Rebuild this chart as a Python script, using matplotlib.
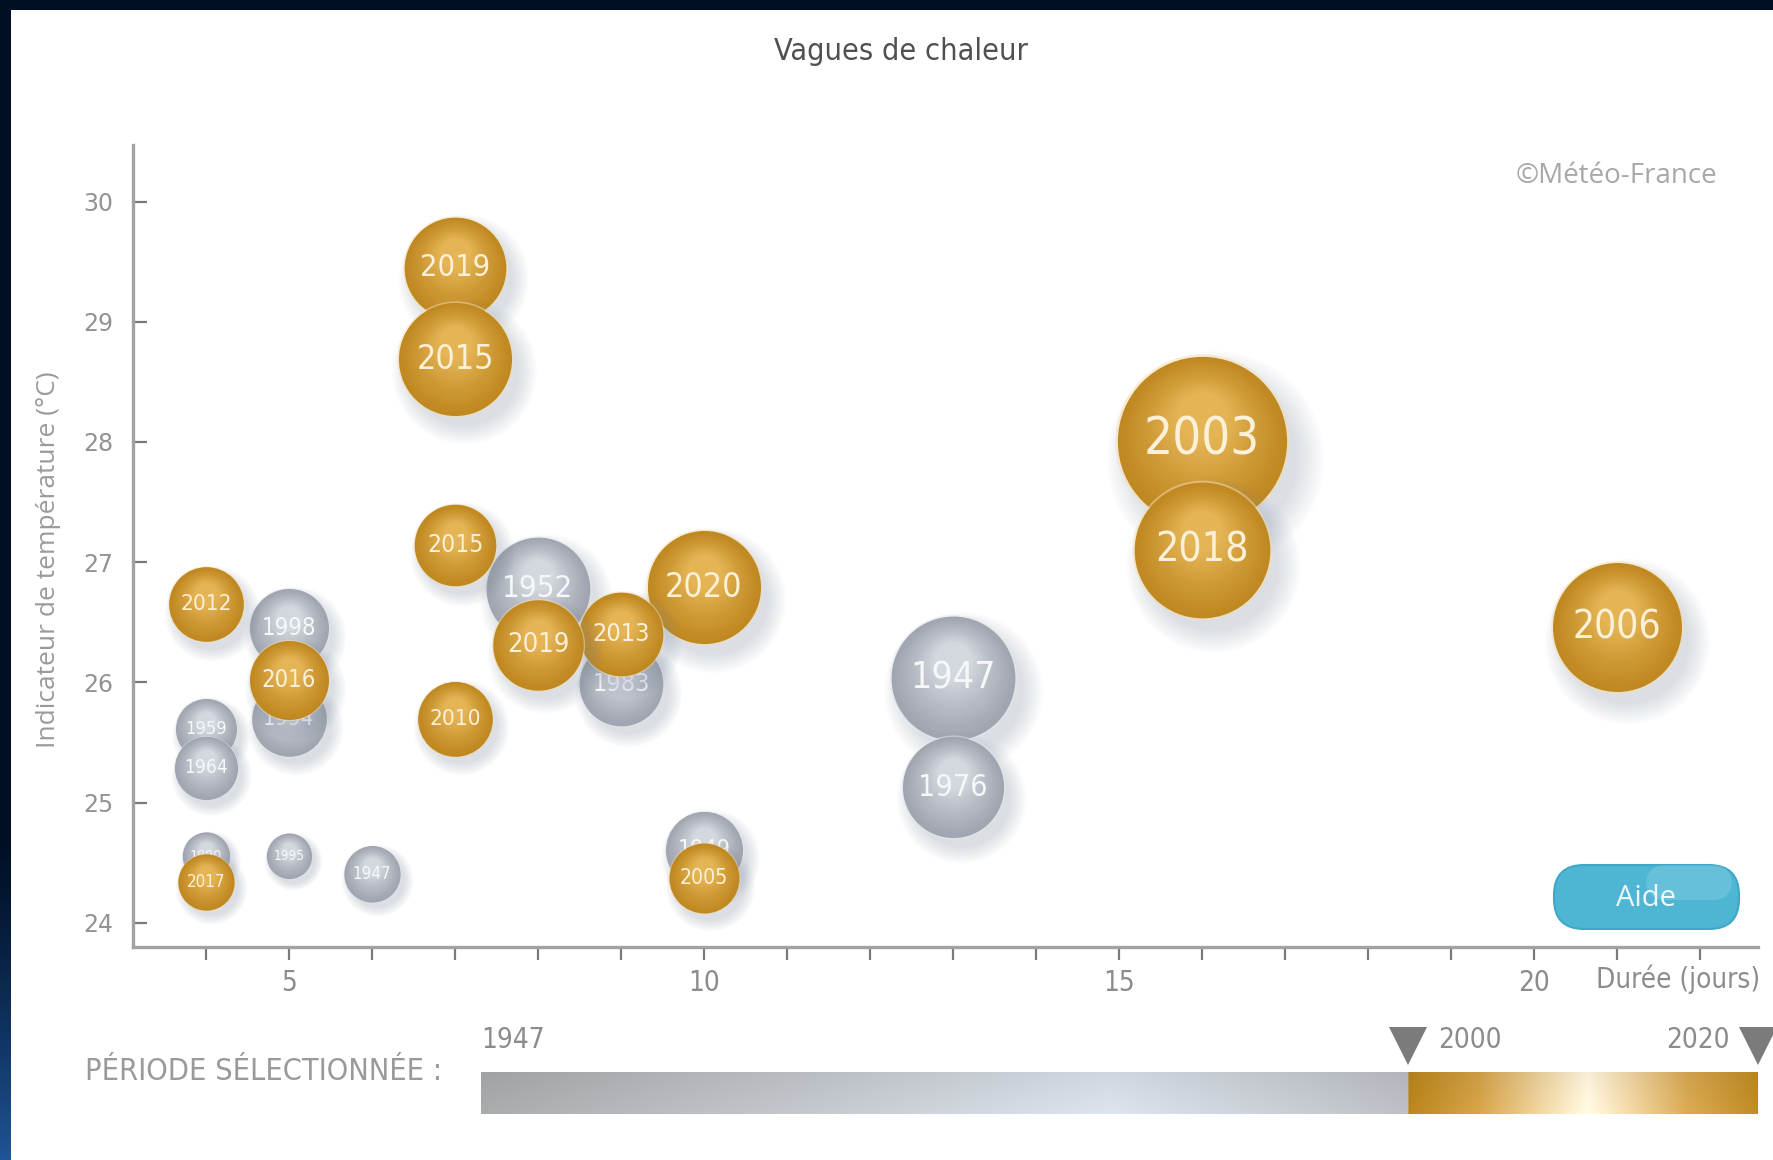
import numpy as np
import matplotlib
matplotlib.use("Agg")
import matplotlib.pyplot as plt
from matplotlib.transforms import ScaledTranslation
from matplotlib.patches import Rectangle, FancyBboxPatch
from matplotlib.colors import to_rgb
from matplotlib.ticker import FixedLocator, NullFormatter

# ---- data -------------------------------------------------------------
annees = ["2019", "2015", "2003", "2018", "2006", "2015", "1952", "2019",
          "2013", "1983", "2020", "2010", "2012", "1998", "2016", "1994",
          "1959", "1964", "1947", "1976", "1990", "2017", "1995", "1947",
          "1949", "2005"]
duree = [7, 7, 16, 16, 21, 7, 8, 8, 9, 9, 10, 7, 4, 5, 5, 5,
         4, 4, 13, 13, 4, 4, 5, 6, 10, 10]
indicateur = [29.45, 28.69, 28.01, 27.10, 26.46, 27.14, 26.78, 26.31,
              26.40, 25.99, 26.79, 25.70, 26.65, 26.45, 26.02, 25.70,
              25.61, 25.29, 26.04, 25.13, 24.56, 24.34, 24.56, 24.41,
              24.61, 24.37]
intensite = [20.2, 25.0, 56.0, 36.0, 32.5, 13.0, 21.0, 16.0,
             13.7, 13.7, 25.0, 10.9, 10.9, 12.2, 12.2, 10.9,
             7.3, 7.8, 30.0, 20.0, 4.4, 6.2, 4.0, 6.2,
             11.6, 9.6]

y_ticks = [24, 25, 26, 27, 28, 29, 30]
x_ticks_lab = [5, 10, 15, 20]
x_ticks_all = list(range(4, 23))
periode = [1947, 2000, 2020]

NARROW = ["Liberation Sans Narrow", "DejaVu Sans"]
SANS = ["Open Sans", "DejaVu Sans"]
COND = dict(family=NARROW, stretch="condensed")

W, H, DPI = 1773, 1160, 100
fig = plt.figure(figsize=(W / DPI, H / DPI), dpi=DPI)
fig.patch.set_facecolor("#000f24")

# white panel behind everything
fig.patches.append(Rectangle((11 / W, 0), 1 - 11 / W, (H - 10) / H,
                             transform=fig.transFigure, facecolor="white",
                             edgecolor="none", zorder=-5))

# left border with a blue glow at the bottom
axb = fig.add_axes([0, 0, 11 / W, 1])
grad = np.linspace(0, 1, 300)[:, None]
c_top, c_bot = np.array(to_rgb("#000f24")), np.array(to_rgb("#1f5496"))
w = np.clip((grad - 0.72) / 0.28, 0, 1) ** 1.3
img = c_top[None, None, :] * (1 - w[..., None]) + c_bot[None, None, :] * w[..., None]
axb.imshow(img, aspect="auto", extent=[0, 1, 1, 0])
axb.set_axis_off()

# ---- main axes --------------------------------------------------------
ax = fig.add_axes([133 / W, 1 - 947 / H, (1758 - 133) / W, (947 - 145) / H])
ax.set_facecolor("none")
ax.set_xlim(3.12, 22.7)
ax.set_ylim(23.80, 30.47)
for s in ["top", "right"]:
    ax.spines[s].set_visible(False)
for s in ["left", "bottom"]:
    ax.spines[s].set_color("#a2a2a2")
    ax.spines[s].set_linewidth(2.4)

ax.yaxis.set_major_locator(FixedLocator(y_ticks))
ax.tick_params(axis="y", direction="in", length=10, width=1.6, color="#7a7a7a",
               pad=14, labelsize=17, labelcolor="#939393")
ax.xaxis.set_major_locator(FixedLocator(x_ticks_lab))
ax.xaxis.set_minor_locator(FixedLocator([v for v in x_ticks_all if v not in x_ticks_lab]))
ax.xaxis.set_minor_formatter(NullFormatter())
ax.tick_params(axis="x", which="both", direction="out", length=9, width=1.6,
               color="#7a7a7a", pad=7, labelsize=20, labelcolor="#8c8c8c")
for lab in ax.get_xticklabels():
    lab.set_family(NARROW)
    lab.set_stretch("condensed")
for lab in ax.get_yticklabels():
    lab.set_family(["DejaVu Sans"])

# ---- bubbles ----------------------------------------------------------
PX = 11.307  # pixels per sqrt(intensity)
GOLD = ("#c08820", "#e4b455", "#f3ddb0", "#fbf0d8")
GRAY = ("#a0a5af", "#d3d7de", "#e4e7ec", "#f6f7f9")


def mix(c1, c2, t):
    a, b = np.array(to_rgb(c1)), np.array(to_rgb(c2))
    return tuple(a * (1 - t) + b * t)


def disc(x, y, rpx, dx, dy, color, alpha, z):
    tr = ax.transData + ScaledTranslation(dx / DPI, dy / DPI, fig.dpi_scale_trans)
    d_pt = 2 * rpx * 72 / DPI
    ax.scatter([x], [y], s=d_pt ** 2, color=[color], alpha=alpha,
               linewidths=0, transform=tr, zorder=z, clip_on=False)


order = sorted(range(len(annees)),
               key=lambda i: (int(annees[i]) >= 2000, -indicateur[i]))

for k, i in enumerate(order):
    x, y = duree[i], indicateur[i]
    rpx = PX * np.sqrt(intensite[i])
    dark, light, halo, txt = GOLD if int(annees[i]) >= 2000 else GRAY
    z = 10 + k
    # soft shadow towards the lower right
    for j in range(10):
        disc(x, y, rpx * (1.28 - 0.035 * j), 0.16 * rpx, -0.22 * rpx,
             "#7d8aa2", 0.028, z)
    disc(x, y, rpx * 1.03, 0, 0, halo, 0.5, z + 0.01)
    disc(x, y, rpx, 0, 0, dark, 1.0, z + 0.02)
    n = 26
    for j, t in enumerate(np.linspace(0, 1, n)[1:]):
        disc(x, y, rpx * (1 - 0.7 * t), 0, 0.28 * rpx * t,
             mix(dark, light, t ** 1.2), 1.0, z + 0.03 + j * 0.001)
    fs = 0.49 * rpx / 1.1307
    ax.text(x, y, annees[i], ha="center", va="center", fontsize=fs,
            color=txt, zorder=z + 0.5, **COND)

# ---- texts ------------------------------------------------------------
fig.text(901 / W, 1 - 51 / H, "Vagues de chaleur", ha="center", va="center",
         fontsize=22, color="#505050", **COND)
fig.text(49 / W, 1 - 560 / H, "Indicateur de température (°C)", rotation=90,
         ha="center", va="center", fontsize=19, family=SANS, color="#9a9a9a")
fig.text(1717 / W, 1 - 176 / H, "©Météo-France", ha="right", va="center",
         fontsize=20, family=SANS, color="#a8a8a8")
fig.text(1760 / W, 1 - 979 / H, "Durée (jours)", ha="right", va="center",
         fontsize=20, color="#8c8c8c", **COND)

# help button
btn = FancyBboxPatch((15.62, 2.39), 1.69, 0.48,
                     boxstyle="round,pad=0.08,rounding_size=0.3",
                     transform=fig.dpi_scale_trans, facecolor="#4eb6d3",
                     edgecolor="#3fa8c7", linewidth=1.5, zorder=50)
fig.patches.append(btn)
hl = FancyBboxPatch((16.5, 2.64), 0.78, 0.27,
                    boxstyle="round,pad=0.04,rounding_size=0.2",
                    transform=fig.dpi_scale_trans, facecolor="#9ed9ea",
                    edgecolor="none", alpha=0.3, zorder=51)
fig.patches.append(hl)
fig.text(1646 / W, 1 - 898 / H, "Aide", ha="center", va="center",
         fontsize=21, family=SANS, color="#eef9fc", zorder=52)

# ---- selected period bar ---------------------------------------------
fig.text(85 / W, 1 - 1072 / H, "PÉRIODE SÉLECTIONNÉE :", ha="left", va="center",
         fontsize=22, color="#9a9a9a", **COND)
axp = fig.add_axes([481 / W, 1 - 1114 / H, 1277 / W, 42 / H])
yrs = np.linspace(periode[0], periode[2], 800)
gray_stops = [(1947, "#a6a7aa"), (1983, "#d7dee6"), (2000, "#b8bbc1")]
gold_stops = [(2000, "#b7821a"), (2004, "#d2a046"), (2010.3, "#fff6df"),
              (2016, "#d6a751"), (2020, "#bd8822")]


def ramp(stops, v):
    xs = [s[0] for s in stops]
    cols = np.array([to_rgb(s[1]) for s in stops])
    return np.array([np.interp(v, xs, cols[:, c]) for c in range(3)])


row = np.array([ramp(gray_stops, v) if v < periode[1] else ramp(gold_stops, v)
                for v in yrs])
shade = np.linspace(0.97, 1.03, 20)[:, None, None]
bar = np.clip(row[None, :, :] * shade, 0, 1)
axp.imshow(bar, aspect="auto", extent=[periode[0], periode[2], 0, 1])
axp.set_xlim(periode[0], periode[2])
axp.set_ylim(0, 1)
axp.set_axis_off()
axp.plot([periode[1], periode[2]], [1.62, 1.62], "v", ms=27, color="#7b7b7b",
         clip_on=False, markeredgewidth=0)
axp.text(periode[0], 1.75, str(periode[0]), ha="left", va="center",
         fontsize=20, color="#8c8c8c", **COND)
axp.text(periode[1] + 1.7, 1.75, str(periode[1]), ha="left", va="center",
         fontsize=20, color="#8c8c8c", **COND)
axp.text(periode[2] - 1.6, 1.75, str(periode[2]), ha="right", va="center",
         fontsize=20, color="#8c8c8c", **COND)

fig.savefig("out.png", dpi=DPI, facecolor=fig.get_facecolor())
